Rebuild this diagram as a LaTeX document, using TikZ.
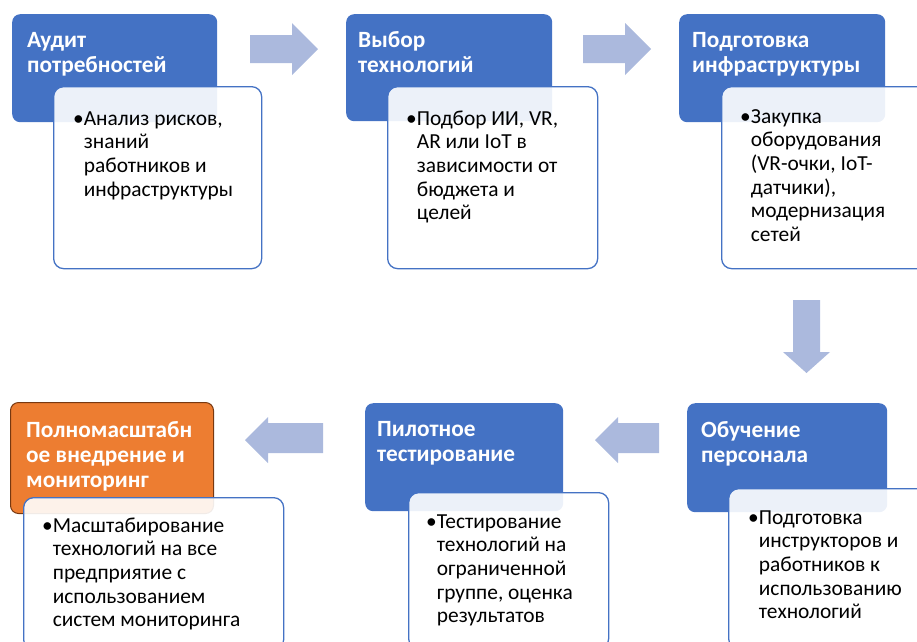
\documentclass[tikz,border=0pt]{standalone}
\usepackage{fontspec}
\setmainfont{Carlito}
\definecolor{hblue}{RGB}{68,114,196}
\definecolor{horange}{RGB}{237,125,49}
\definecolor{hbrown}{RGB}{120,56,16}
\definecolor{arrowc}{RGB}{171,185,221}
\newcommand\hl[1]{\begin{tabular}[t]{@{}l@{}}#1\end{tabular}}
\newcommand\bl[1]{\begin{tabular}[t]{@{}l@{}l@{}}•&\begin{tabular}[t]{@{}l@{}}#1\end{tabular}\end{tabular}}
\tikzset{
  head/.style={rounded corners=8pt, fill=hblue, draw=none, anchor=north west, inner sep=0},
  headtxt/.style={text=white, font=\fontsize{23.3}{25}\selectfont\bfseries, anchor=base west, inner sep=0},
  card/.style={rounded corners=10pt, draw=hblue, line width=1.3pt, fill=white, fill opacity=0.9, anchor=north west, inner sep=0},
  bodytxt/.style={font=\fontsize{21.4}{23.7}\selectfont, anchor=base west, inner sep=0, text=black},
  blockarrow/.style={fill=arrowc, draw=none}
}
\begin{document}
\begin{tikzpicture}[x=1pt,y=-1pt]
\useasboundingbox (0,0) rectangle (917,641);
% block arrows
\fill[blockarrow] (250,35) -- (292,35) -- (292,23) -- (318,49) -- (292,75) -- (292,63) -- (250,63) -- cycle;
\fill[blockarrow] (583,35) -- (625,35) -- (625,23) -- (651,49) -- (625,75) -- (625,63) -- (583,63) -- cycle;
\fill[blockarrow] (793,300) -- (820,300) -- (820,352) -- (830,352) -- (806.5,373) -- (783,352) -- (793,352) -- cycle;
\fill[blockarrow] (659,423) -- (618,423) -- (618,417) -- (595,440) -- (618,463) -- (618,453) -- (659,453) -- cycle;
\fill[blockarrow] (323,423) -- (268,423) -- (268,417) -- (245,440) -- (268,463) -- (268,453) -- (323,453) -- cycle;
% step 1
\node[head, minimum width=205pt, minimum height=108pt] (h1) at (12,14) {};
\node[headtxt] (t1) at (27,47) {\hl{Аудит\\потребностей}};
\node[card, minimum width=208pt, minimum height=182pt] (c1) at (53,86) {};
\node[bodytxt] (b1) at (73,125) {\bl{Анализ рисков,\\знаний\\работников и\\инфраструктуры}};
% step 2
\node[head, minimum width=206pt, minimum height=107pt] (h2) at (346,14) {};
\node[headtxt] (t2) at (358,47) {\hl{Выбор\\технологий}};
\node[card, minimum width=210pt, minimum height=182pt] (c2) at (387,86) {};
\node[bodytxt] (b2) at (406,125) {\bl{Подбор ИИ, VR,\\AR или IoT в\\зависимости от\\бюджета и\\целей}};
% step 3
\node[head, minimum width=206pt, minimum height=108pt] (h3) at (679,14) {};
\node[headtxt] (t3) at (692,47) {\hl{Подготовка\\инфраструктуры}};
\node[card, minimum width=210pt, minimum height=182pt] (c3) at (721,86) {};
\node[bodytxt] (b3) at (740,123) {\bl{Закупка\\оборудования\\(VR-очки, IoT-\\датчики),\\модернизация\\сетей}};
% step 4
\node[head, minimum width=200pt, minimum height=109pt] (h6) at (687,403) {};
\node[headtxt] (t6) at (701,437) {\hl{Обучение\\персонала}};
\node[card, minimum width=210pt, minimum height=160pt] (c6) at (728,488) {};
\node[bodytxt] (b6) at (748,524) {\bl{Подготовка\\инструкторов и\\работников к\\использованию\\технологий}};
% step 5
\node[head, minimum width=198pt, minimum height=108pt] (h5) at (365,403) {};
\node[headtxt] (t5) at (377,436) {\hl{Пилотное\\тестирование}};
\node[card, minimum width=200pt, minimum height=156pt] (c5) at (408,492) {};
\node[bodytxt] (b5) at (426,528) {\bl{Тестирование\\технологий на\\ограниченной\\группе, оценка\\результатов}};
% step 6
\node[head, fill=horange, draw=hbrown, line width=1pt, minimum width=203pt, minimum height=111pt] (h4) at (10,402) {};
\node[headtxt] (t4) at (26,437) {\hl{Полномасштабн\\ое внедрение и\\мониторинг}};
\node[card, minimum width=260pt, minimum height=152pt] (c4) at (23,497) {};
\node[bodytxt] (b4) at (42,532) {\bl{Масштабирование\\технологий на все\\предприятие с\\использованием\\систем мониторинга}};
\end{tikzpicture}
\end{document}
